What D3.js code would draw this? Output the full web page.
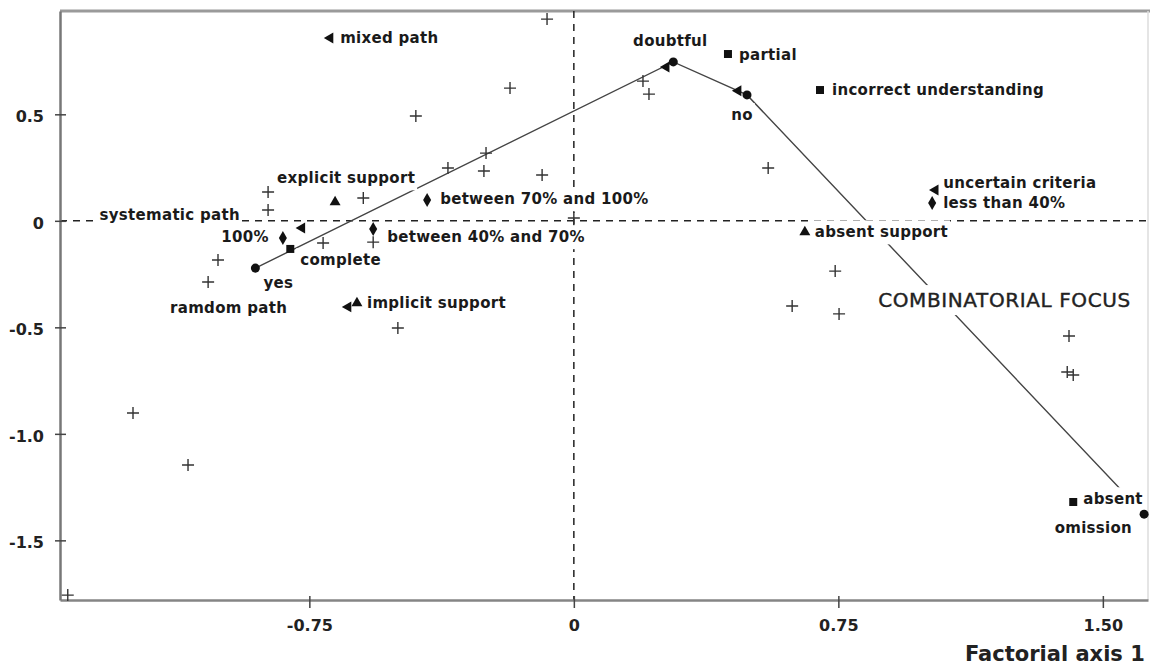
<!DOCTYPE html>
<html>
<head>
<meta charset="utf-8">
<script src="https://cdn.jsdelivr.net/npm/d3@7.9.0/dist/d3.min.js"></script>
<style>
  body { margin: 0; background: #fff; }
  svg { display: block; font-family: "DejaVu Sans", "Liberation Sans", Arial, sans-serif; }
</style>
</head>
<body>
<svg id="chart" width="1150" height="670"></svg>
<script>
// individuals (plotted as +)
const plusX = [-0.076, -0.181, -0.448, -0.867, -0.867, -0.597, -0.249, -0.357, -0.255, -0.090,
  0.196, 0.213, 0.551, -0.711, -0.569, -1.009, -1.037, -0.499, 0.000, 0.741,
  0.619, 0.752, 1.404, 1.399, 1.416, -1.250, -1.094, -1.435];
const plusY = [0.947, 0.623, 0.492, 0.135, 0.051, 0.107, 0.318, 0.248, 0.234, 0.215,
  0.656, 0.595, 0.248, -0.104, -0.100, -0.184, -0.287, -0.503, 0.013, -0.236,
  -0.400, -0.437, -0.541, -0.710, -0.724, -0.902, -1.146, -1.757];

// categories, one set per marker shape
const circleNames = ['yes', 'doubtful', 'no', 'omission'];
const circleX = [-0.903, 0.282, 0.491, 1.617];
const circleY = [-0.222, 0.746, 0.591, -1.377];

const squareNames = ['complete', 'partial', 'incorrect understanding', 'absent'];
const squareX = [-0.804, 0.437, 0.698, 1.416];
const squareY = [-0.132, 0.783, 0.614, -1.320];

const diamondNames = ['100%', 'between 70% and 100%', 'between 40% and 70%', 'less than 40%'];
const diamondX = [-0.825, -0.416, -0.569, 1.016];
const diamondY = [-0.081, 0.098, -0.038, 0.084];

const triUpNames = ['explicit support', 'implicit support', 'absent support'];
const triUpX = [-0.677, -0.615, 0.655];
const triUpY = [0.088, -0.386, -0.053];

const triLeftNames = ['mixed path', 'systematic path', 'ramdom path', 'uncertain criteria', '', ''];
const triLeftX = [-0.691, -0.771, -0.640, 1.025, 0.262, 0.466];
const triLeftY = [0.858, -0.034, -0.404, 0.145, 0.722, 0.611];

const noteText = 'COMBINATORIAL FOCUS';
const noteX = 0.863;
const noteY = -0.372;

const xTicks = [-0.75, 0, 0.75, 1.5];
const xTickLabels = ['-0.75', '0', '0.75', '1.50'];
const yTicks = [0.5, 0, -0.5, -1.0, -1.5];
const yTickLabels = ['0.5', '0', '-0.5', '-1.0', '-1.5'];
const xTitle = 'Factorial axis 1';

// where each label sits relative to its marker: [dx, dy, anchor]
const labelPlace = {
  'yes': [8, 15, 'start'],
  'doubtful': [-3, -21, 'middle'],
  'no': [-5, 20, 'middle'],
  'omission': [-12, 14, 'end'],
  'complete': [10, 11, 'start'],
  'partial': [11, 1, 'start'],
  'incorrect understanding': [12, 0, 'start'],
  'absent': [10, -3, 'start'],
  '100%': [-14, -1, 'end'],
  'between 70% and 100%': [13, -1, 'start'],
  'between 40% and 70%': [14, 8, 'start'],
  'less than 40%': [11, 0, 'start'],
  'explicit support': [-58, -24, 'start'],
  'implicit support': [10, 0, 'start'],
  'absent support': [10, 0, 'start'],
  'mixed path': [10, 0, 'start'],
  'systematic path': [-62, -13, 'end'],
  'ramdom path': [-61, 1, 'end'],
  'uncertain criteria': [8, -7, 'start']
};

const margin = { left: 60, right: 1148, top: 11, bottom: 600 };
const svg = d3.select('#chart');

const x = d3.scaleLinear().domain([-1.457, 1.628]).range([margin.left, margin.right]);
const y = d3.scaleLinear().domain([-1.780, 0.985]).range([margin.bottom, margin.top]);

// frame
svg.append('line').attr('x1', margin.left).attr('x2', 1150).attr('y1', margin.top).attr('y2', margin.top)
  .attr('stroke', '#9a9a9a').attr('stroke-width', 3);
svg.append('line').attr('x1', margin.right).attr('x2', margin.right).attr('y1', margin.top).attr('y2', margin.bottom)
  .attr('stroke', '#dddddd').attr('stroke-width', 1.5);

// zero lines (dashed)
svg.append('line').attr('x1', margin.left).attr('x2', margin.right).attr('y1', y(0)).attr('y2', y(0))
  .attr('stroke', '#222').attr('stroke-width', 1.5).attr('stroke-dasharray', '7,6');
svg.append('line').attr('x1', x(0)).attr('x2', x(0)).attr('y1', margin.top).attr('y2', margin.bottom)
  .attr('stroke', '#222').attr('stroke-width', 1.5).attr('stroke-dasharray', '7,6');

// axes
const xAxisG = svg.append('g').attr('transform', `translate(0,${margin.bottom})`)
  .call(d3.axisBottom(x).tickValues(xTicks).tickFormat((d, i) => xTickLabels[i]).tickSizeOuter(0));
const yAxisG = svg.append('g').attr('transform', `translate(${margin.left},0)`)
  .call(d3.axisLeft(y).tickValues(yTicks).tickFormat((d, i) => yTickLabels[i]).tickSizeOuter(0));

xAxisG.select('.domain').attr('stroke', '#858585').attr('stroke-width', 2.5);
yAxisG.select('.domain').attr('stroke', '#777').attr('stroke-width', 2.5);
xAxisG.selectAll('.tick line').attr('y1', -4).attr('y2', 8).attr('stroke', '#444').attr('stroke-width', 1.5);
yAxisG.selectAll('.tick line').attr('x1', -5).attr('x2', 6).attr('stroke', '#444').attr('stroke-width', 1.5);
xAxisG.attr('font-family', null).attr('font-size', null);
yAxisG.attr('font-family', null).attr('font-size', null);
xAxisG.selectAll('.tick text').attr('y', 25).attr('dy', '0.35em')
  .attr('font-size', 16).attr('font-weight', 'bold').attr('fill', '#222');
yAxisG.selectAll('.tick text').attr('x', -16).attr('y', 2).attr('dy', '0.35em')
  .attr('font-size', 16).attr('font-weight', 'bold').attr('fill', '#222');

svg.append('text').attr('x', 965).attr('y', 654).attr('dy', '0.35em')
  .attr('font-size', 21).attr('font-weight', 'bold')
  .attr('fill', '#222').text(xTitle);

// line joining the circle categories
const lineGen = d3.line().x(d => x(d[0])).y(d => y(d[1]));
svg.append('path')
  .attr('d', lineGen(d3.zip(circleX, circleY)))
  .attr('fill', 'none').attr('stroke', '#444').attr('stroke-width', 1.4);

// build category list
function toPoints(names, xs, ys, shape) {
  return names.map((n, i) => ({ name: n, x: xs[i], y: ys[i], shape }));
}
const cats = [].concat(
  toPoints(circleNames, circleX, circleY, 'circle'),
  toPoints(squareNames, squareX, squareY, 'square'),
  toPoints(diamondNames, diamondX, diamondY, 'diamond'),
  toPoints(triUpNames, triUpX, triUpY, 'up'),
  toPoints(triLeftNames, triLeftX, triLeftY, 'left')
);

// labels with white boxes behind them
const boxG = svg.append('g');
const textG = svg.append('g');
cats.filter(d => d.name).forEach(d => {
  const p = labelPlace[d.name] || [10, 0, 'start'];
  textG.append('text')
    .attr('x', x(d.x) + p[0]).attr('y', y(d.y) + p[1]).attr('dy', '0.35em')
    .attr('text-anchor', p[2])
    .attr('font-size', 15).attr('font-weight', 'bold').attr('letter-spacing', 0.3)
    .attr('fill', '#1a1a1a')
    .text(d.name);
});
textG.append('text')
  .attr('x', x(noteX)).attr('y', y(noteY)).attr('dy', '0.35em')
  .attr('font-size', 20).attr('letter-spacing', 0.6).attr('fill', '#222')
  .attr('stroke', '#222').attr('stroke-width', 0.4)
  .text(noteText);

textG.selectAll('text').each(function () {
  const b = this.getBBox();
  boxG.append('rect')
    .attr('x', b.x - 4).attr('y', b.y - 3)
    .attr('width', b.width + 6).attr('height', b.height + 6)
    .attr('fill', '#fff');
});

// individuals
svg.append('g').selectAll('path')
  .data(d3.zip(plusX, plusY))
  .join('path')
  .attr('transform', d => `translate(${x(d[0])},${y(d[1])})`)
  .attr('d', 'M-6,0H6M0,-6V6')
  .attr('stroke', '#333').attr('stroke-width', 1.4).attr('fill', 'none');

// category markers
const symbolOf = {
  circle: d3.symbol(d3.symbolCircle, 64)(),
  square: d3.symbol(d3.symbolSquare, 64)(),
  diamond: d3.symbol(d3.symbolDiamond, 56)(),
  up: d3.symbol(d3.symbolTriangle, 52)(),
  left: d3.symbol(d3.symbolTriangle, 52)()
};
svg.append('g').selectAll('path')
  .data(cats)
  .join('path')
  .attr('transform', d => `translate(${x(d.x)},${y(d.y)})` + (d.shape === 'left' ? ' rotate(-90)' : ''))
  .attr('d', d => symbolOf[d.shape])
  .attr('fill', '#111');
</script>
</body>
</html>
